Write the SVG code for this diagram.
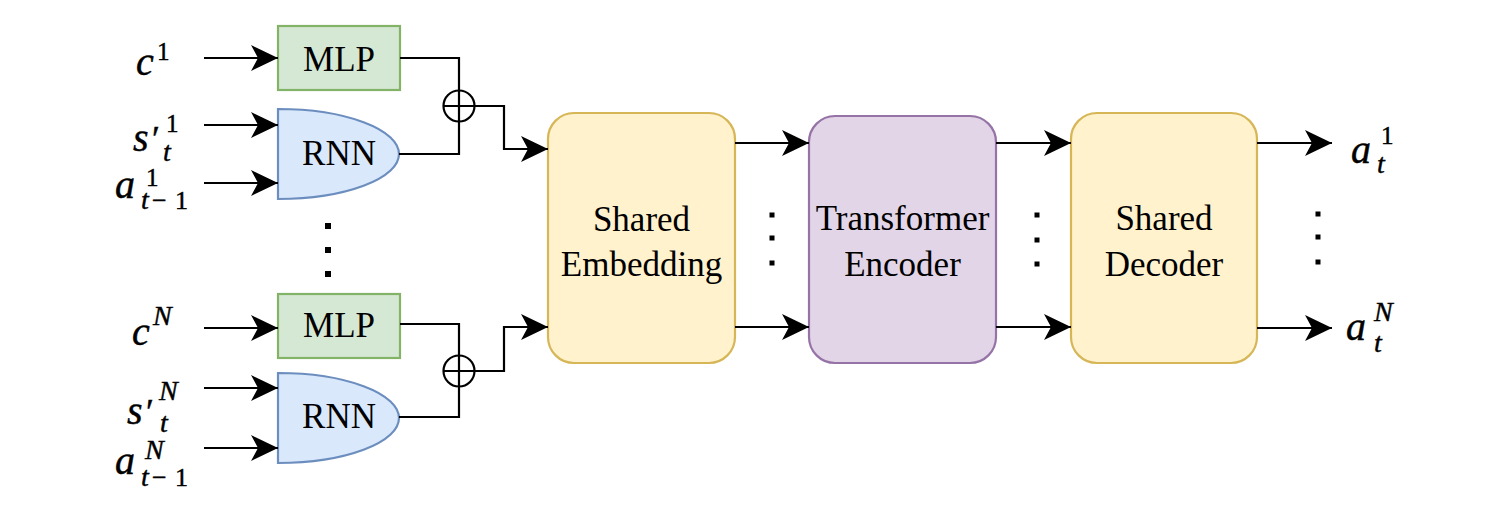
<svg xmlns="http://www.w3.org/2000/svg" width="1485" height="516" viewBox="0 0 1485 516">
<style>
.lbl{font-family:"Liberation Serif","Times New Roman",serif;font-size:35px;fill:#000;text-anchor:middle}
.math{font-family:"Liberation Serif","Times New Roman",serif;fill:#000;stroke:#000;stroke-width:0.45}
.mi{font-style:italic;font-size:40px}
.sup{font-style:normal;font-size:25px}
.supi{font-style:italic;font-size:28px}
.subi{font-style:italic;font-size:28px}
.sub{font-style:normal;font-size:26px}
.pr{font-style:normal;font-size:36px}
.edge{fill:none;stroke:#000;stroke-width:2.2}
.arr{marker-end:url(#ah)}
.green{fill:#d5e8d4;stroke:#82b366;stroke-width:2.2}
.blue{fill:#dae8fc;stroke:#6c8ebf;stroke-width:2.2}
.yellow{fill:#fff2cc;stroke:#d6b656;stroke-width:2.2}
.purple{fill:#e1d5e7;stroke:#9673a6;stroke-width:2.2}
.dot{fill:#000}
</style>
<defs>
<marker id="ah" markerUnits="userSpaceOnUse" viewBox="-28 -14 28 28" markerWidth="28" markerHeight="28" refX="0" refY="0" orient="auto">
<path d="M0,0 L-27,-13 L-20,0 L-27,13 Z" fill="#000"/>
</marker>
</defs>

<g id="mlp1"><rect class="green" x="278" y="26" width="122" height="64"/><text class="lbl" x="339" y="71">MLP</text></g>
<g id="rnn1"><path class="blue" d="M278,109 A121,45 0 0 1 399,154 A121,45 0 0 1 278,199 Z"/><text class="lbl" x="339" y="165">RNN</text></g>
<g id="mlpN"><rect class="green" x="278" y="294" width="122" height="64"/><text class="lbl" x="339" y="337">MLP</text></g>
<g id="rnnN"><path class="blue" d="M278,373 A121,45 0 0 1 399,418 A121,45 0 0 1 278,463 Z"/><text class="lbl" x="339" y="428">RNN</text></g>

<g id="sum1"><circle cx="459" cy="106" r="15.5" fill="none" stroke="#000" stroke-width="2.2"/><path class="edge" d="M443.5,106 H474.5 M459,90.5 V121.5"/></g>
<g id="sumN"><circle cx="459" cy="371" r="15.5" fill="none" stroke="#000" stroke-width="2.2"/><path class="edge" d="M443.5,371 H474.5 M459,355.5 V386.5"/></g>

<g id="emb"><rect class="yellow" x="548" y="113" width="187" height="250" rx="26"/><text class="lbl" x="641.5" y="231">Shared</text><text class="lbl" x="641.5" y="276">Embedding</text></g>
<g id="enc"><rect class="purple" x="809" y="116" width="187" height="247" rx="26"/><text class="lbl" x="902.5" y="230">Transformer</text><text class="lbl" x="902.5" y="276">Encoder</text></g>
<g id="dec"><rect class="yellow" x="1071" y="113" width="186" height="250" rx="26"/><text class="lbl" x="1164" y="230">Shared</text><text class="lbl" x="1164" y="276">Decoder</text></g>

<g id="connectors">
<path class="edge arr" d="M204,58 H278"/>
<path class="edge arr" d="M204,125 H278"/>
<path class="edge arr" d="M204,183 H278"/>
<path class="edge" d="M400,58 H459 V90.5"/>
<path class="edge" d="M399,154 H459 V121.5"/>
<path class="edge arr" d="M474.5,106 H504 V149 H548"/>
<path class="edge arr" d="M204,328 H278"/>
<path class="edge arr" d="M204,388 H278"/>
<path class="edge arr" d="M204,448 H278"/>
<path class="edge" d="M400,324 H459 V355.5"/>
<path class="edge" d="M399,417 H459 V386.5"/>
<path class="edge arr" d="M474.5,371 H504 V327 H548"/>
<path class="edge arr" d="M735,143 H809"/>
<path class="edge arr" d="M735,327 H809"/>
<path class="edge arr" d="M996,143 H1071"/>
<path class="edge arr" d="M996,327 H1071"/>
<path class="edge arr" d="M1257,143 H1332"/>
<path class="edge arr" d="M1257,328 H1332"/>
</g>

<g id="dots">
<rect class="dot" x="325" y="223" width="6" height="6"/><rect class="dot" x="325" y="247" width="6" height="6"/><rect class="dot" x="325" y="271" width="6" height="6"/>
<rect class="dot" x="769.5" y="212.5" width="5" height="5"/><rect class="dot" x="769.5" y="235.5" width="5" height="5"/><rect class="dot" x="769.5" y="260.5" width="5" height="5"/>
<rect class="dot" x="1034.5" y="212.5" width="5" height="5"/><rect class="dot" x="1034.5" y="237.5" width="5" height="5"/><rect class="dot" x="1034.5" y="261.5" width="5" height="5"/>
<rect class="dot" x="1315.5" y="211.5" width="5" height="5"/><rect class="dot" x="1315.5" y="234.5" width="5" height="5"/><rect class="dot" x="1315.5" y="259.5" width="5" height="5"/>
</g>

<g id="lbl-c1"><text class="math"><tspan class="mi" x="136" y="75">c</tspan><tspan class="sup" x="157" y="60">1</tspan></text></g>
<g id="lbl-s1"><text class="math"><tspan class="mi" x="133" y="151">s</tspan><tspan class="pr" x="152" y="151">′</tspan><tspan class="sup" x="166" y="132">1</tspan><tspan class="subi" x="163" y="161">t</tspan></text></g>
<g id="lbl-a1"><text class="math"><tspan class="mi" x="115" y="198">a</tspan><tspan class="sup" x="146" y="186">1</tspan><tspan class="subi" x="141" y="209">t</tspan><tspan class="sub" x="152" y="209">−</tspan><tspan class="sub" x="175" y="209">1</tspan></text></g>

<g id="lbl-cN"><text class="math"><tspan class="mi" x="132" y="345">c</tspan><tspan class="supi" x="153" y="325">N</tspan></text></g>
<g id="lbl-sN"><text class="math"><tspan class="mi" x="127" y="424">s</tspan><tspan class="pr" x="146" y="424">′</tspan><tspan class="supi" x="159" y="400">N</tspan><tspan class="subi" x="160" y="432">t</tspan></text></g>
<g id="lbl-aN"><text class="math"><tspan class="mi" x="115" y="474">a</tspan><tspan class="supi" x="145" y="459">N</tspan><tspan class="subi" x="141" y="486">t</tspan><tspan class="sub" x="152" y="486">−</tspan><tspan class="sub" x="175" y="486">1</tspan></text></g>

<g id="lbl-at1"><text class="math"><tspan class="mi" x="1351" y="163">a</tspan><tspan class="sup" x="1381" y="144">1</tspan><tspan class="subi" x="1377" y="173">t</tspan></text></g>
<g id="lbl-atN"><text class="math"><tspan class="mi" x="1346" y="340">a</tspan><tspan class="supi" x="1374" y="321">N</tspan><tspan class="subi" x="1374" y="352">t</tspan></text></g>
</svg>
